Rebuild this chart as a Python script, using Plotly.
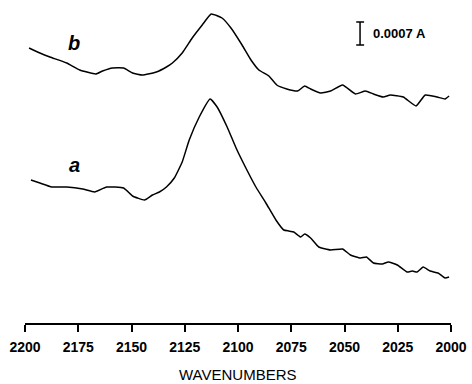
import plotly.graph_objects as go

# Wavenumbers (cm^-1) and relative absorbance heights (arbitrary offset units; 22 units = 0.0007 A)
wn_b = [2198.1, 2193.0, 2188.3, 2180.4, 2174.3, 2166.8, 2163.6, 2158.9, 2153.7, 2149.5,
        2144.9, 2138.3, 2133.6, 2130.8, 2126.2, 2121.5, 2116.8, 2112.6, 2107.5, 2103.3,
        2098.1, 2093.9, 2090.2, 2085.5, 2081.8, 2077.1, 2072.0, 2068.7, 2065.9, 2061.2,
        2056.5, 2050.9, 2044.9, 2040.2, 2036.4, 2031.8, 2028.5, 2022.4, 2016.4, 2012.1,
        2006.5, 2002.8, 2000.9]
abs_b = [275, 270, 266, 260, 253, 249, 252, 255, 255, 250,
         248, 251, 256, 260, 270, 285, 298, 309, 305, 295,
         278, 263, 253, 247, 238, 234, 232, 237, 234, 230,
         232, 238, 229, 232, 229, 226, 228, 226, 217, 228,
         226, 224, 227]

wn_a = [2197.2, 2193.0, 2187.4, 2180.4, 2172.9, 2167.3, 2161.7, 2153.7, 2149.5, 2143.9,
        2140.2, 2136.9, 2133.6, 2129.9, 2126.2, 2122.9, 2118.2, 2113.1, 2109.8, 2105.1,
        2100.9, 2096.3, 2091.6, 2086.9, 2082.2, 2078.5, 2076.2, 2073.8, 2070.6, 2068.7,
        2065.9, 2062.1, 2056.5, 2050.9, 2047.2, 2042.5, 2039.7, 2036.4, 2032.2, 2029.4,
        2025.2, 2020.6, 2018.2, 2015.9, 2013.1, 2009.8, 2006.1, 2002.8, 2000.9]
abs_a = [143, 140, 136, 136, 134, 131, 136, 135, 127, 123,
         128, 131, 136, 145, 161, 183, 206, 224, 216, 196,
         175, 155, 136, 120, 103, 93, 92, 91, 86, 89,
         85, 76, 73, 74, 68, 65, 66, 60, 59, 61,
         58, 51, 52, 51, 56, 52, 50, 45, 46]

tick_vals = [2200, 2175, 2150, 2125, 2100, 2075, 2050, 2025, 2000]
tick_text = [str(v) for v in tick_vals]
x_title = "WAVENUMBERS"
scale_label = "0.0007 A"

fig = go.Figure()
fig.add_trace(go.Scatter(x=wn_b, y=abs_b, mode="lines",
                         line=dict(color="black", width=1.5, shape="spline", smoothing=0.4),
                         showlegend=False))
fig.add_trace(go.Scatter(x=wn_a, y=abs_a, mode="lines",
                         line=dict(color="black", width=1.5, shape="spline", smoothing=0.4),
                         showlegend=False))

# curve labels
fig.add_annotation(x=2176.9, y=280, text="<b><i>b</i></b>", showarrow=False,
                   font=dict(family="Liberation Sans, Arial", size=20, color="black"))
fig.add_annotation(x=2176.6, y=158, text="<b><i>a</i></b>", showarrow=False,
                   font=dict(family="Liberation Sans, Arial", size=20, color="black"))

# scale bar
fig.add_shape(type="line", x0=2042.7, x1=2042.7, y0=278, y1=301,
              line=dict(color="black", width=1.5))
fig.add_shape(type="line", x0=2044.5, x1=2040.8, y0=278, y1=278,
              line=dict(color="black", width=1.5))
fig.add_shape(type="line", x0=2044.5, x1=2040.8, y0=301, y1=301,
              line=dict(color="black", width=1.5))
fig.add_annotation(x=2037.4, y=290, text="<b>" + scale_label + "</b>", showarrow=False,
                   xanchor="left",
                   font=dict(family="Liberation Sans, Arial", size=13, color="black"))

# axis title
fig.add_annotation(xref="paper", yref="paper", x=0.5, y=-0.163, text=x_title,
                   showarrow=False, yanchor="middle",
                   font=dict(family="Liberation Sans, Arial", size=15, color="black"))

fig.update_xaxes(range=[2200, 2000], tickvals=tick_vals, ticktext=tick_text,
                 showline=True, linecolor="black", linewidth=1.5,
                 ticks="outside", ticklen=7, tickwidth=1.5, tickcolor="black",
                 showgrid=False, zeroline=False, ticklabelstandoff=3,
                 tickfont=dict(family="Liberation Sans, Arial", size=14, color="black",
                               weight="bold"))
fig.update_yaxes(range=[0, 318], visible=False, showgrid=False, zeroline=False)

fig.update_layout(width=472, height=384, plot_bgcolor="white", paper_bgcolor="white",
                  margin=dict(l=25, r=19, t=5, b=61), showlegend=False)

fig.write_html("out.html")
